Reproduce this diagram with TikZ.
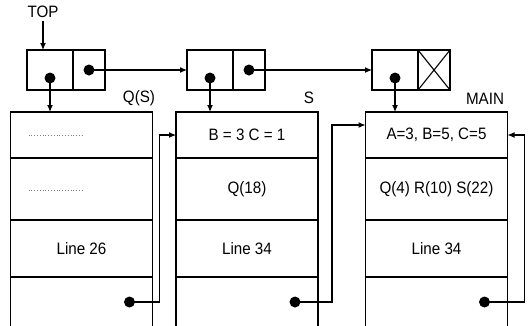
\documentclass[tikz,border=0pt]{standalone}
\usepackage{fontspec}
\setmainfont[FakeStretch=0.92]{Liberation Sans}
\usetikzlibrary{positioning, arrows.meta, calc}

\begin{document}
\begin{tikzpicture}[x=1pt, y=-1pt, >=latex, font=\fontsize{16.5}{19}\selectfont,
	celda/.style={draw, line width=1.1pt, minimum height=40pt, inner sep=0pt, outer sep=0pt},
	fila/.style={draw, line width=1.1pt, minimum width=142pt, inner sep=0pt, outer sep=0pt, align=center},
	punto/.style={circle, fill=black, inner sep=0pt, minimum size=11pt},
	arrow/.style={-{Latex[length=7pt, width=6pt]}, line width=1.1pt}]

	\useasboundingbox (0,0) rectangle (532,325);
	\clip (0,0) rectangle (532,325);

	% Registros de enlace (arriba)
	\node[celda, minimum width=46pt] (p1l) at (50,70) {};
	\node[celda, minimum width=32pt, right=0pt of p1l] (p1r) {};
	\node[celda, minimum width=46pt] (p2l) at (210,70) {};
	\node[celda, minimum width=32pt, right=0pt of p2l] (p2r) {};
	\node[celda, minimum width=46pt] (p3l) at (395,70) {};
	\node[celda, minimum width=32pt, right=0pt of p3l] (p3r) {};
	\draw[line width=1.1pt] (p3r.north west) -- (p3r.south east) (p3r.south west) -- (p3r.north east);

	\node[punto] (d1l) at ($(p1l.center)+(0,8)$) {};
	\node[punto] (d1r) at (p1r.center) {};
	\node[punto] (d2l) at ($(p2l.center)+(0,8)$) {};
	\node[punto] (d2r) at (p2r.center) {};
	\node[punto] (d3l) at ($(p3l.center)+(0,8)$) {};

	\node (top) at (43,12) {TOP};

	% Marco Q(S)
	\node[fila, minimum height=46pt] (q1) at (81.5,135) {};
	\node[fila, minimum height=62pt, below=0pt of q1] (q2) {};
	\node[fila, minimum height=57pt, below=0pt of q2] (q3) {Line 26};
	\node[fila, minimum height=53pt, below=0pt of q3] (q4) {};
	\draw[dotted, gray, line width=0.8pt] ($(q1.west)+(18,0)$) -- ++(55,0);
	\draw[dotted, gray, line width=0.8pt] ($(q2.west)+(18,1)$) -- ++(55,0);
	\node[punto] (dq) at ($(q4.north east)+(-23,25)$) {};

	% Marco S
	\node[fila, minimum height=46pt] (s1) at (247,135) {B = 3 C = 1};
	\node[fila, minimum height=62pt, below=0pt of s1] (s2) {Q(18)};
	\node[fila, minimum height=57pt, below=0pt of s2] (s3) {Line 34};
	\node[fila, minimum height=53pt, below=0pt of s3] (s4) {};
	\node[punto] (ds) at ($(s4.north east)+(-23,25)$) {};

	% Marco MAIN
	\node[fila, minimum height=46pt] (m1) at (436.5,135) {A=3, B=5, C=5};
	\node[fila, minimum height=62pt, below=0pt of m1] (m2) {Q(4) R(10) S(22)};
	\node[fila, minimum height=57pt, below=0pt of m2] (m3) {Line 34};
	\node[fila, minimum height=53pt, below=0pt of m3] (m4) {};
	\node[punto] (dm) at ($(m4.north east)+(-23,25)$) {};

	\node (lqs) at (139,98) {Q(S)};
	\node (ls) at (309,98) {S};
	\node (lmain) at (485,99) {MAIN};

	% Enlaces
	\draw[arrow] (top) -- (top |- p1l.north);
	\draw[arrow] (d1r.center) -- (p2l);
	\draw[arrow] (d2r.center) -- (p3l);
	\draw[arrow] (d1l.center) -- (d1l.center |- q1.north);
	\draw[arrow] (d2l.center) -- (d2l.center |- s1.north);
	\draw[arrow] (d3l.center) -- (d3l.center |- m1.north);

	% Retornos
	\draw[arrow] (dq.center) -- ++(30,0) |- (s1.west);
	\draw[arrow] (ds.center) -- ++(37,0) |- ([yshift=10pt]m1.west);
	\draw[arrow] (dm.center) -- ++(40,0) |- (m1.east);
\end{tikzpicture}
\end{document}
